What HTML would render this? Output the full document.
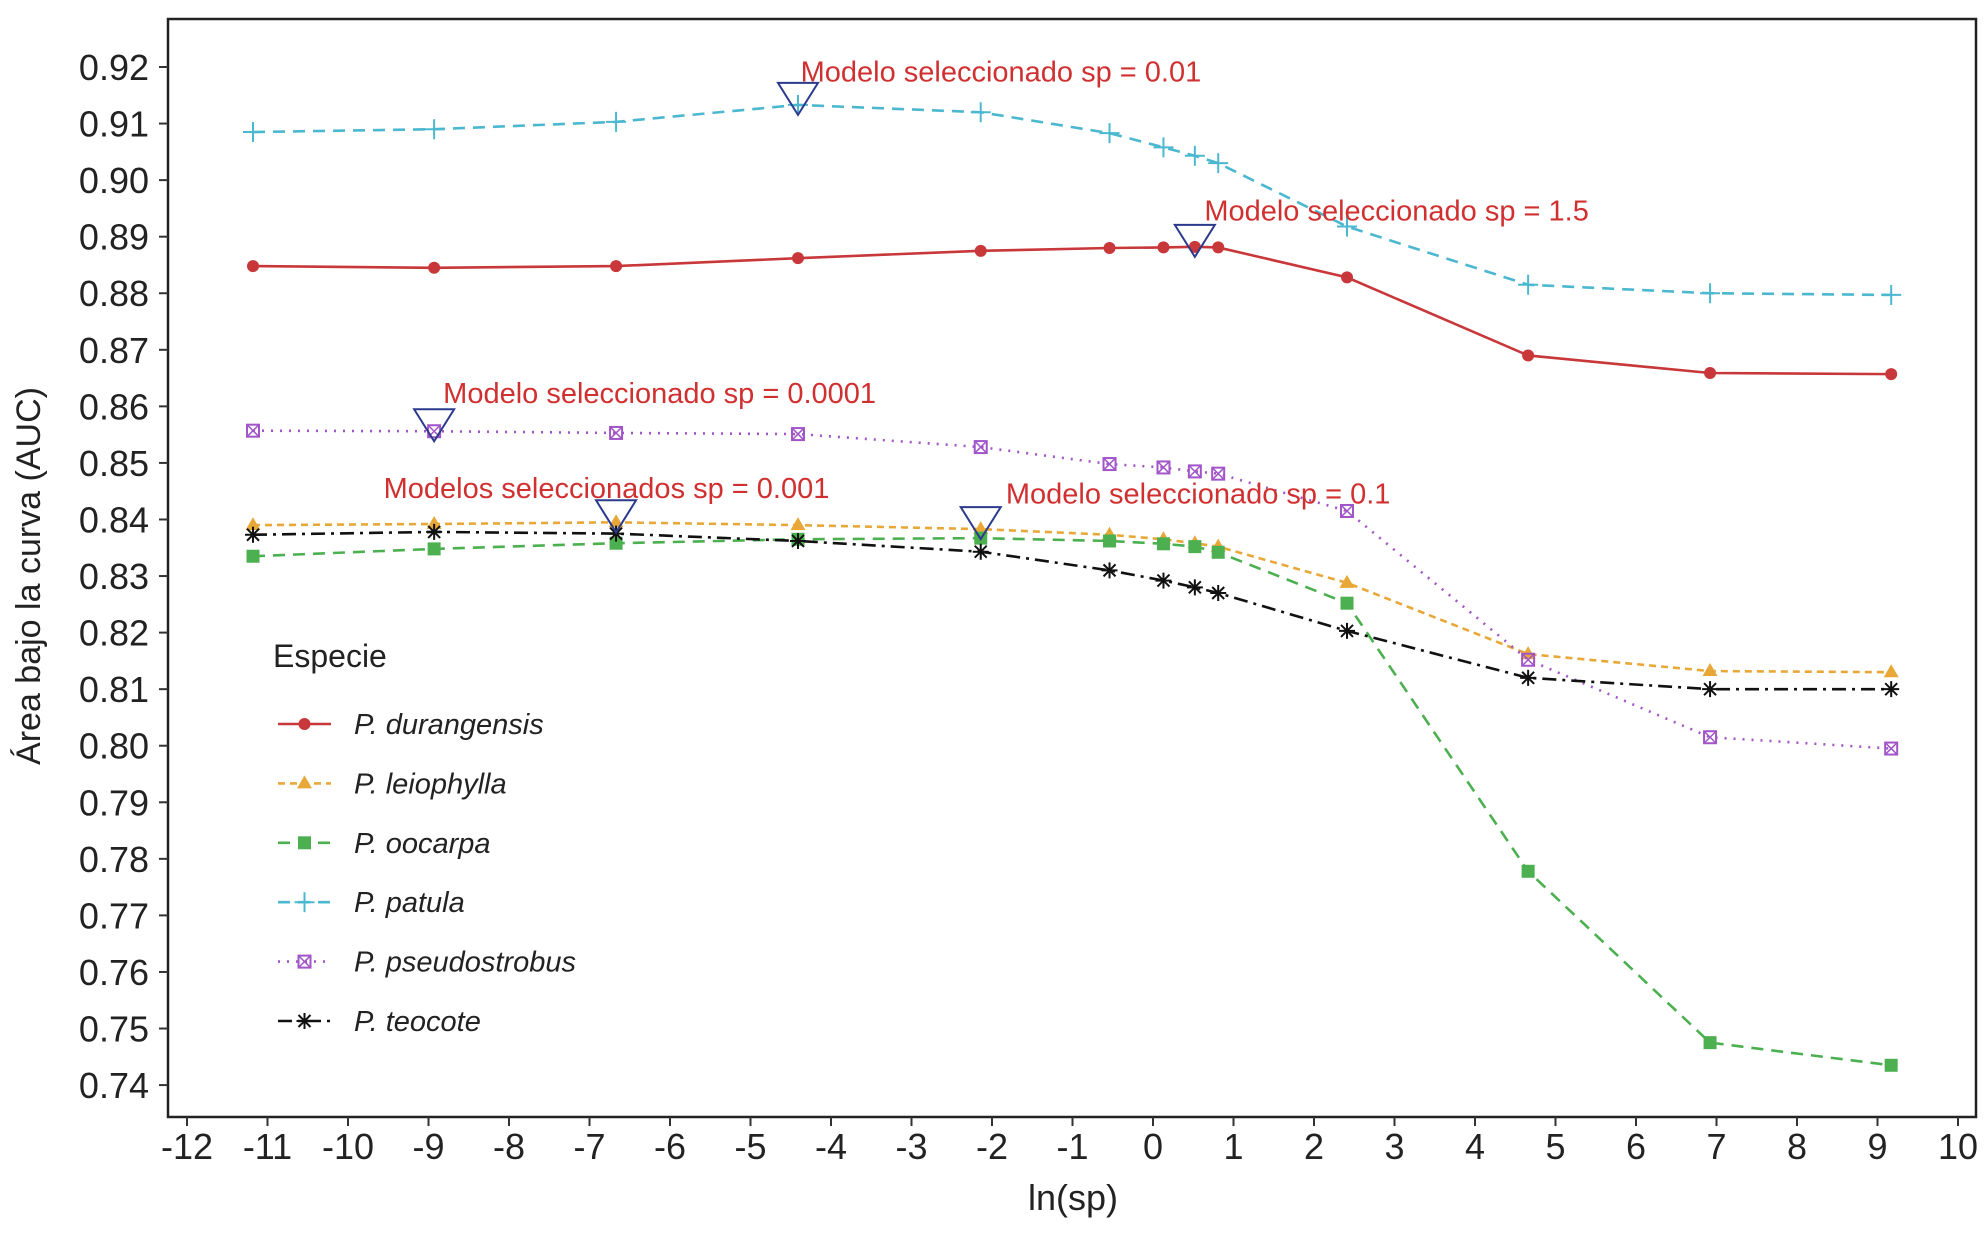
<!DOCTYPE html>
<html><head><meta charset="utf-8"><style>
html,body{margin:0;padding:0;background:#fff;}
svg{display:block;font-family:"Liberation Sans",Arial,sans-serif;}
</style></head><body>
<svg id="chart" width="1984" height="1233" viewBox="0 0 1984 1233"></svg>
<script>
const xVals=[-11.18,-8.93,-6.67,-4.41,-2.14,-0.54,0.13,0.52,0.81,2.41,4.66,6.92,9.17];
const durangensis=[0.8848,0.8845,0.8848,0.8862,0.8875,0.8880,0.8881,0.8882,0.8881,0.8828,0.8690,0.8659,0.8657];
const leiophylla=[0.8390,0.8392,0.8395,0.8390,0.8383,0.8373,0.8365,0.8358,0.8352,0.8288,0.8162,0.8132,0.8130];
const oocarpa=[0.8335,0.8348,0.8358,0.8365,0.8367,0.8362,0.8357,0.8352,0.8342,0.8252,0.7778,0.7475,0.7435];
const patula=[0.9085,0.9090,0.9103,0.9133,0.9120,0.9083,0.9058,0.9043,0.9030,0.8918,0.8815,0.8800,0.8797];
const pseudostrobus=[0.8557,0.8556,0.8553,0.8551,0.8528,0.8498,0.8492,0.8485,0.8481,0.8415,0.8152,0.8015,0.7995];
const teocote=[0.8373,0.8378,0.8375,0.8362,0.8343,0.8310,0.8292,0.8280,0.8270,0.8203,0.8120,0.8100,0.8100];
const xTicks=[-12,-11,-10,-9,-8,-7,-6,-5,-4,-3,-2,-1,0,1,2,3,4,5,6,7,8,9,10];
const yTicks=[0.74,0.75,0.76,0.77,0.78,0.79,0.80,0.81,0.82,0.83,0.84,0.85,0.86,0.87,0.88,0.89,0.90,0.91,0.92];
const annX=[-4.41,0.52,-8.93,-6.67,-2.14];
const annY=[0.9133,0.8882,0.8556,0.8395,0.8383];
const annText=["Modelo seleccionado sp = 0.01","Modelo seleccionado sp = 1.5","Modelo seleccionado sp = 0.0001","Modelos seleccionados sp = 0.001","Modelo seleccionado sp = 0.1"];
const annLabelX=[-4.39,0.625,-8.83,-9.57,-1.84];
const annLabelY=[0.9192,0.8946,0.8624,0.8456,0.8446];

const NS="http://www.w3.org/2000/svg";
const svg=document.getElementById('chart');
const L=168,T=19,R=1976,B=1117;
const X=v=>187+(v+12)*80.5;
const Y=v=>67+(0.92-v)*5656;
function el(t,a,p){const e=document.createElementNS(NS,t);for(const k in a)e.setAttribute(k,a[k]);(p||svg).appendChild(e);return e;}

const frame=el('rect',{x:L,y:T,width:R-L,height:B-T,fill:'none',stroke:'#222','stroke-width':2.5});



xTicks.forEach(t=>{
  const g=el('g',{});
  
  
  el('line',{x1:X(t),x2:X(t),y1:B,y2:B+9,stroke:'#333','stroke-width':2},g);
  const tx=el('text',{x:X(t),y:B+42,'font-size':36,'text-anchor':'middle',fill:'#222'},g);tx.textContent=t;
});
yTicks.forEach(t=>{
  const g=el('g',{});
  
  
  el('line',{x1:L-9,x2:L,y1:Y(t),y2:Y(t),stroke:'#333','stroke-width':2},g);
  const tx=el('text',{x:L-19,y:Y(t)+13,'font-size':36,'text-anchor':'end',fill:'#222'},g);tx.textContent=t.toFixed(2);
});
const xt=el('text',{x:1073,y:1210,'font-size':36,'text-anchor':'middle',fill:'#222'});xt.textContent='ln(sp)';


const yt=el('text',{x:0,y:0,'font-size':34,'text-anchor':'middle',fill:'#222',transform:'translate(40,576) rotate(-90)'});yt.textContent='Área bajo la curva (AUC)';



const series=[
 {n:'durangensis',d:durangensis,c:'#c8373a',dash:'',m:'circle'},
 {n:'leiophylla',d:leiophylla,c:'#e8a838',dash:'7,5',m:'tri'},
 {n:'oocarpa',d:oocarpa,c:'#4cb050',dash:'12,8',m:'square'},
 {n:'patula',d:patula,c:'#4bb8d0',dash:'12,8',m:'plus'},
 {n:'pseudostrobus',d:pseudostrobus,c:'#a155c8',dash:'2,7',m:'boxx'},
 {n:'teocote',d:teocote,c:'#111',dash:'14,6,3,6',m:'star'}
];
function marker(m,x,y,c,g){
  if(m==='circle')el('circle',{cx:x,cy:y,r:6,fill:c},g);
  else if(m==='tri')el('polygon',{points:`${x},${y-8} ${x-7.5},${y+5} ${x+7.5},${y+5}`,fill:c},g);
  else if(m==='square')el('rect',{x:x-6.5,y:y-6.5,width:13,height:13,fill:c},g);
  else if(m==='plus'){el('line',{x1:x-10,x2:x+10,y1:y,y2:y,stroke:c,'stroke-width':2},g);el('line',{x1:x,x2:x,y1:y-10,y2:y+10,stroke:c,'stroke-width':2},g);}
  else if(m==='boxx'){el('rect',{x:x-6,y:y-6,width:12,height:12,fill:'none',stroke:c,'stroke-width':2},g);el('path',{d:`M${x-6} ${y-6}L${x+6} ${y+6}M${x+6} ${y-6}L${x-6} ${y+6}`,stroke:c,'stroke-width':1.5},g);}
  else if(m==='star'){el('path',{d:`M${x-8} ${y}H${x+8}M${x} ${y-8}V${y+8}M${x-6} ${y-6}L${x+6} ${y+6}M${x+6} ${y-6}L${x-6} ${y+6}`,stroke:c,'stroke-width':2},g);}
}
series.forEach(s=>{
  const g=el('g',{});
  
  
  const pts=s.d.map((v,i)=>X(xVals[i])+','+Y(v)).join(' ');
  const a={points:pts,fill:'none',stroke:s.c,'stroke-width':2.6};
  if(s.dash)a['stroke-dasharray']=s.dash;
  el('polyline',a,g);
  s.d.forEach((v,i)=>marker(s.m,X(xVals[i]),Y(v),s.c,g));
});
annX.forEach((v,i)=>{
  const g=el('g',{});
  
  
  const x=X(v),y=Y(annY[i]);
  el('polygon',{points:`${x-20},${y-22} ${x+20},${y-22} ${x},${y+10}`,fill:'none',stroke:'#2b3a8c','stroke-width':2},g);
});
annText.forEach((t,i)=>{
  const tx=el('text',{x:X(annLabelX[i])+1,y:Y(annLabelY[i])+10,'font-size':29,fill:'#d03030'});tx.textContent=t;
  
  
});
const lg=el('g',{});


const lt=el('text',{x:273,y:667,'font-size':32,fill:'#222'},lg);lt.textContent='Especie';
series.forEach((s,i)=>{
  const y=724+i*59.4;
  const g=el('g',{},lg);
  
  
  const a={x1:278,x2:331,y1:y,y2:y,stroke:s.c,'stroke-width':2.6};
  if(s.dash)a['stroke-dasharray']=s.dash;
  el('line',a,g);
  marker(s.m,304.5,y,s.c,g);
  const t=el('text',{x:354,y:y+10,'font-size':29,'font-style':'italic',fill:'#222'},g);t.textContent='P. '+s.n;
});
</script>
</body></html>
